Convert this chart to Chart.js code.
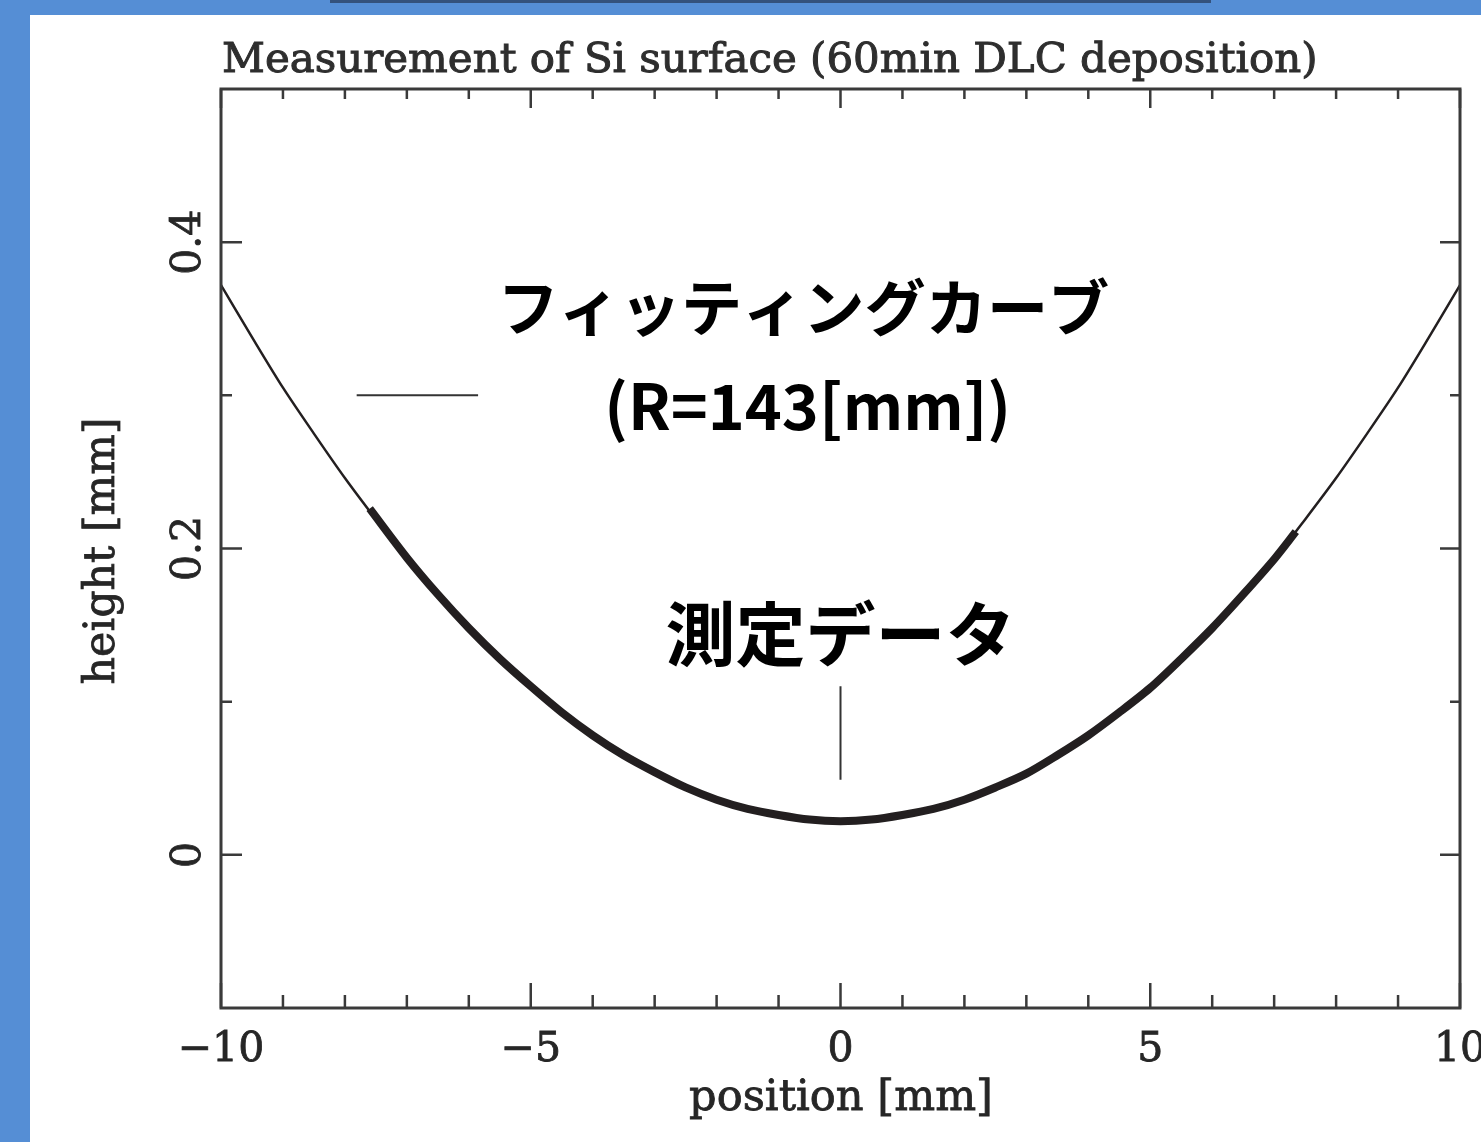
<!DOCTYPE html>
<html>
<head>
    <title>Measurement of Si surface</title>
    <script src="https://cdn.jsdelivr.net/npm/chart.js"></script>
    <style>
        html, body {
            margin: 0;
            padding: 0;
            background: #558ed5;
        }

        #wrap {
            width: 1481px;
            height: 1142px;
        }
    </style>
</head>
<body>
    <div id="wrap"><canvas id="profileChart"></canvas></div>

    <script>
        // fitted circle (R=143mm), every 0.5 mm
        const fitPos = [-10, -9.5, -9, -8.5, -8, -7.5, -7, -6.5, -6, -5.5, -5, -4.5, -4, -3.5, -3, -2.5, -2, -1.5, -1, -0.5,
            0, 0.5, 1, 1.5, 2, 2.5, 3, 3.5, 4, 4.5, 5, 5.5, 6, 6.5, 7, 7.5, 8, 8.5, 9, 9.5, 10];
        const fitHeight = [0.372, 0.338, 0.305, 0.275, 0.246, 0.219, 0.193, 0.170, 0.148, 0.128, 0.109, 0.093, 0.078, 0.065, 0.054, 0.044, 0.036, 0.030, 0.026, 0.023,
            0.022, 0.023, 0.026, 0.030, 0.036, 0.044, 0.054, 0.065, 0.078, 0.093, 0.109, 0.128, 0.148, 0.170, 0.193, 0.219, 0.246, 0.275, 0.305, 0.338, 0.372];

        // measured profile (thick line)
        const measPos = [-7.6, -7, -6.5, -6, -5.5, -5, -4.5, -4, -3.5, -3, -2.5, -2, -1.5, -1, -0.5,
            0, 0.5, 1, 1.5, 2, 2.5, 3, 3.5, 4, 4.5, 5, 5.5, 6, 6.5, 7, 7.35];
        const measHeight = [0.226, 0.194, 0.170, 0.148, 0.128, 0.110, 0.093, 0.078, 0.065, 0.054, 0.044, 0.036, 0.030, 0.026, 0.023,
            0.022, 0.023, 0.026, 0.030, 0.036, 0.044, 0.053, 0.065, 0.078, 0.093, 0.109, 0.128, 0.148, 0.170, 0.193, 0.211];

        const xMajorTicks = [-10, -5, 0, 5, 10];
        const xTickLabels = ['\u221210', '\u22125', '0', '5', '10'];
        const xMinorTicks = [-9, -8, -7, -6, -4, -3, -2, -1, 1, 2, 3, 4, 6, 7, 8, 9];
        const yMajorTicks = [0, 0.2, 0.4];
        const yTickLabels = ['0', '0.2', '0.4'];
        const yMinorTicks = [0.1, 0.3];

        const serif = '"DejaVu Serif", "Liberation Serif", serif';
        const jp = '"Noto Sans CJK JP", "Noto Sans", sans-serif';
        const ink = '#231f20';
        const frameColor = '#3a3a3a';

        function fitSize(ctx, text, weight, family, width) {
            ctx.font = `${weight} 100px ${family}`;
            return 100 * width / ctx.measureText(text).width;
        }

        // text with a thin outline so the serif looks as heavy as the scan
        function heavyText(ctx, text, x, y) {
            ctx.fillText(text, x, y);
            ctx.strokeText(text, x, y);
        }

        const slidePlugin = {
            id: 'slide',
            beforeDraw(chart) {
                const ctx = chart.ctx;
                ctx.save();
                ctx.fillStyle = '#558ed5';
                ctx.fillRect(0, 0, chart.width, chart.height);
                ctx.fillStyle = '#ffffff';
                ctx.fillRect(30, 15, chart.width - 30, chart.height - 15);
                ctx.fillStyle = '#34527c';
                ctx.fillRect(330, 0, 881, 3);
                ctx.restore();
            },
            afterDraw(chart) {
                const ctx = chart.ctx;
                const a = chart.chartArea;
                const xs = chart.scales.x;
                const ys = chart.scales.y;
                ctx.save();

                // frame
                ctx.strokeStyle = frameColor;
                ctx.lineWidth = 3;
                ctx.strokeRect(a.left, a.top, a.right - a.left, a.bottom - a.top);

                // inward ticks
                ctx.lineWidth = 2.5;
                ctx.beginPath();
                xMajorTicks.forEach(v => {
                    const px = xs.getPixelForValue(v);
                    ctx.moveTo(px, a.bottom); ctx.lineTo(px, a.bottom - 25);
                    ctx.moveTo(px, a.top); ctx.lineTo(px, a.top + 19);
                });
                xMinorTicks.forEach(v => {
                    const px = xs.getPixelForValue(v);
                    ctx.moveTo(px, a.bottom); ctx.lineTo(px, a.bottom - 13);
                    ctx.moveTo(px, a.top); ctx.lineTo(px, a.top + 10);
                });
                yMajorTicks.forEach(v => {
                    const py = ys.getPixelForValue(v);
                    ctx.moveTo(a.left, py); ctx.lineTo(a.left + 21, py);
                    ctx.moveTo(a.right, py); ctx.lineTo(a.right - 20, py);
                });
                yMinorTicks.forEach(v => {
                    const py = ys.getPixelForValue(v);
                    ctx.moveTo(a.left, py); ctx.lineTo(a.left + 11, py);
                    ctx.moveTo(a.right, py); ctx.lineTo(a.right - 10, py);
                });
                ctx.stroke();

                // tick labels
                ctx.fillStyle = '#262626';
                ctx.strokeStyle = '#262626';
                ctx.lineWidth = 0.8;
                ctx.font = `41px ${serif}`;
                ctx.textAlign = 'center';
                ctx.textBaseline = 'alphabetic';
                xMajorTicks.forEach((v, i) => {
                    heavyText(ctx, xTickLabels[i], xs.getPixelForValue(v), 1061);
                });
                yMajorTicks.forEach((v, i) => {
                    ctx.save();
                    ctx.translate(200, ys.getPixelForValue(v));
                    ctx.rotate(-Math.PI / 2);
                    heavyText(ctx, yTickLabels[i], 0, 0);
                    ctx.restore();
                });

                // axis titles
                let s = fitSize(ctx, 'position [mm]', 'normal', serif, 304);
                ctx.font = `${s}px ${serif}`;
                heavyText(ctx, 'position [mm]', 841, 1110);
                s = fitSize(ctx, 'height [mm]', 'normal', serif, 267);
                ctx.font = `${s}px ${serif}`;
                ctx.save();
                ctx.translate(114, 551);
                ctx.rotate(-Math.PI / 2);
                heavyText(ctx, 'height [mm]', 0, 0);
                ctx.restore();

                // chart title
                const title = 'Measurement of Si surface (60min DLC deposition)';
                s = fitSize(ctx, title, 'normal', serif, 1096);
                ctx.font = `${s}px ${serif}`;
                ctx.fillStyle = '#2e2e2e';
                ctx.strokeStyle = '#2e2e2e';
                ctx.lineWidth = 1;
                ctx.textAlign = 'left';
                heavyText(ctx, title, 222, 72);

                // annotations
                ctx.fillStyle = '#000000';
                ctx.textAlign = 'center';
                ctx.textBaseline = 'middle';
                const t1 = 'フィッティングカーブ';
                s = fitSize(ctx, t1, 'bold', jp, 612);
                ctx.font = `bold ${s}px ${jp}`;
                ctx.fillText(t1, xs.getPixelForValue(-0.6), ys.getPixelForValue(0.357));
                const t2 = '(R=143[mm])';
                s = fitSize(ctx, t2, 'bold', jp, 407);
                ctx.font = `bold ${s}px ${jp}`;
                ctx.fillText(t2, xs.getPixelForValue(-0.53), ys.getPixelForValue(0.293));
                const t3 = '測定データ';
                s = fitSize(ctx, t3, 'bold', jp, 350);
                ctx.font = `bold ${s}px ${jp}`;
                ctx.fillText(t3, xs.getPixelForValue(0), ys.getPixelForValue(0.144));

                // leader lines
                ctx.strokeStyle = '#333333';
                ctx.lineWidth = 2;
                ctx.beginPath();
                ctx.moveTo(xs.getPixelForValue(-7.81), ys.getPixelForValue(0.300));
                ctx.lineTo(xs.getPixelForValue(-5.85), ys.getPixelForValue(0.300));
                ctx.moveTo(xs.getPixelForValue(0), ys.getPixelForValue(0.110));
                ctx.lineTo(xs.getPixelForValue(0), ys.getPixelForValue(0.049));
                ctx.stroke();

                ctx.restore();
            }
        };

        const ctx = document.getElementById('profileChart').getContext('2d');
        const profileChart = new Chart(ctx, {
            type: 'scatter',
            data: {
                datasets: [{
                    label: 'fit',
                    data: fitPos.map((x, i) => ({ x: x, y: fitHeight[i] })),
                    showLine: true,
                    borderColor: ink,
                    borderWidth: 2.5,
                    pointRadius: 0,
                    tension: 0.3
                }, {
                    label: 'measured',
                    data: measPos.map((x, i) => ({ x: x, y: measHeight[i] })),
                    showLine: true,
                    borderColor: ink,
                    borderWidth: 8,
                    borderCapStyle: 'butt',
                    pointRadius: 0,
                    tension: 0.3
                }]
            },
            options: {
                responsive: true,
                maintainAspectRatio: false,
                animation: false,
                layout: {
                    padding: { left: 221, right: 21, top: 89, bottom: 134 }
                },
                scales: {
                    x: { type: 'linear', min: -10, max: 10, display: false },
                    y: { type: 'linear', min: -0.1, max: 0.5, display: false }
                },
                plugins: {
                    legend: { display: false },
                    tooltip: { enabled: false }
                }
            },
            plugins: [slidePlugin]
        });
    </script>
</body>
</html>
